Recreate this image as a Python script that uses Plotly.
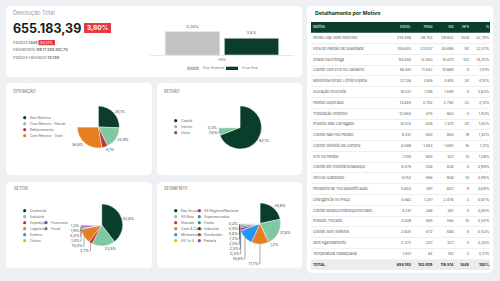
import plotly.graph_objects as go

W, H = 500, 281
FONT = "Inter"
DARK = "#0b3d2c"


def px(x):
    return x / W


def py(y):
    return 1 - y / H


# ---------------- data ----------------
kpi_title = "Devolução Total"
kpi_value = "655.183,39"
kpi_change = "3,80%"
pedidos = "1448"
pedidos_change = "54,21%"
faturamento = "R$ 17.258.102,75"
pedidos_faturados = "10.188"

bar_category = "Ano"
bar_series = ["Ano Anterior", "Esse Ano"]
bar_values = [5.28, 3.8]

op_labels = ["Sem Retorno", "Com Retorno - Parcial", "Refaturamento", "Com Retorno - Total"]
op_values = [34.1, 22.9, 6.1, 36.9]

reg_labels = ["Capital", "Interior", "Outro"]
reg_values = [92.1, 7.6, 0.3]

setor_labels = ["Comercial", "Indústria", "Expedição", "Logística", "Externo", "Outros", "Financeiro", "Fiscal"]
setor_values = [52.8, 23.9, 3.7, 15.0, 1.0, 0.4, 1.9, 1.3]

seg_labels = ["Key Account", "AS Rota", "Atacado", "Cash & Carry", "Minimercado", "AS 1 a 4",
              "AS Regional/Nacional", "Supermercados", "Foods", "Industrial", "Distribuidor", "Padaria"]
seg_values = [28.9, 27.8, 1.2, 17.7, 16.8, 0.3, 2.5, 2.0, 1.2, 0.8, 0.5, 0.3]

table_cols = ["Motivo", "Devol.", "Peso", "Vol", "NFs", "%"]
motivos = ["Perda Loja (Sem Retorno)", "Fora do Padrão de Qualidade", "Atraso na Entrega",
           "Cliente com Erro no Cadastro", "Motorista Exced. Limite Espera", "Alocação Incorreta",
           "Pedido Duplicado", "Tributação (Interno)", "Produto Não Carregado", "Cliente Não Fez Pedido",
           "Cliente Desistiu da Compra", "Erro no Pedido", "Cliente em Inventário/Balanço",
           "Veículo Quebrado", "Pendente de Troca/Bonificação", "Divergência no Preço",
           "Cliente Mudou Endereço/Fechado", "Produto Trocado", "Cliente Sem Sistema",
           "Sem Agendamento", "Temperatura Inadequada"]
devol = [214498, 146803, 93050, 48561, 27136, 18521, 13865, 12664, 10514, 9331, 8588, 7105,
         6476, 6152, 5853, 5683, 4241, 3508, 2835, 2272, 1401]
peso = [39753, 23057, 12463, 11542, 3816, 1109, 2752, 675, 609, 650, 1563, 605,
        436, 666, 597, 1251, 288, 565, 472, 227, 82]
vol = [39932, 30898, 15673, 10889, 4810, 1549, 2780, 663, 1372, 663, 1655, 631,
       628, 938, 820, 2478, 501, 556, 488, 327, 150]
nfs = [1028, 92, 102, 4, 24, 5, 22, 5, 24, 19, 16, 13, 5, 14, 9, 3, 4, 10, 5, 5, 2]
pct = [32.74, 22.41, 14.20, 7.41, 4.14, 2.83, 2.12, 1.93, 1.60, 1.42, 1.31, 1.08,
       0.99, 0.94, 0.89, 0.87, 0.65, 0.54, 0.43, 0.35, 0.21]
total_row = ["TOTAL", "655.183", "103.829", "119.514", "1448", "100%"]

# ---------------- styles ----------------
bar_colors = ["#c2c2c2", DARK]
op_colors = [DARK, "#7fc8a0", "#b83a3a", "#e67e22"]
reg_colors = [DARK, "#7fc8a0", "#b83a3a"]
setor_colors = [DARK, "#7fc8a0", "#b83a3a", "#e67e22", "#2196f3", "#f5b800", "#9c27b0", "#5f7d8c"]
seg_colors = [DARK, "#7fc8a0", "#b83a3a", "#e67e22", "#2196f3", "#f5b800",
              "#9c27b0", "#5f7d8c", "#16a085", "#1f2d3d", "#d35400", "#8e44ad"]


def fmt_int(n):
    return f"{n:,}".replace(",", ".")


def fmt_pct(v, d=1):
    return f"{v:.{d}f}%".replace(".", ",")


fig = go.Figure()
shapes = []
annotations = []


def rrect(x0, y0, x1, y1, r=5, fill="white"):
    X0, X1 = px(x0), px(x1)
    Yt, Yb = py(y0), py(y1)
    rx, ry = r / W, r / H
    path = (f"M {X0+rx},{Yt} L {X1-rx},{Yt} Q {X1},{Yt} {X1},{Yt-ry} "
            f"L {X1},{Yb+ry} Q {X1},{Yb} {X1-rx},{Yb} L {X0+rx},{Yb} Q {X0},{Yb} {X0},{Yb+ry} "
            f"L {X0},{Yt-ry} Q {X0},{Yt} {X0+rx},{Yt} Z")
    return dict(type="path", xref="paper", yref="paper", path=path, fillcolor=fill,
                line=dict(width=0), layer="below")


def text(x, y, s, size=4, color="#555", anchor="left", bold=False, family=FONT):
    annotations.append(dict(x=px(x), y=py(y), xref="paper", yref="paper", text=(f"<b>{s}</b>" if bold else s),
                            showarrow=False, xanchor=anchor, yanchor="middle",
                            font=dict(size=size, color=color, family=family)))


# cards
for c in [(6, 6, 302, 77), (6, 83, 152, 175), (157, 83, 302, 175),
          (6, 182, 152, 268), (157, 182, 302, 268), (307, 6, 493, 273)]:
    shapes.append(rrect(*c))

# KPI block
text(11, 13, kpi_title, size=5.5, color="#9a9a9a")
text(11, 28.5, kpi_value, size=12.5, color="#1a1a1a", bold=True)
shapes.append(dict(type="rect", xref="paper", yref="paper", x0=px(84), x1=px(111), y0=py(33), y1=py(23),
                   fillcolor="#e63946", line=dict(width=0)))
text(97.5, 28.2, kpi_change, size=6.5, color="white", anchor="center", bold=True)
text(11, 42.5, f"Pedidos <b>{pedidos}</b>", size=3.8, color="#777")
shapes.append(dict(type="rect", xref="paper", yref="paper", x0=px(38.5), x1=px(55), y0=py(45.2), y1=py(40),
                   fillcolor="#e63946", line=dict(width=0)))
text(46.8, 42.6, pedidos_change, size=3.6, color="white", anchor="center")
text(11, 49.8, f"Faturamento <b>{faturamento}</b>", size=3.8, color="#777")
text(11, 57, f"Pedidos Faturados <b>{pedidos_faturados}</b>", size=3.8, color="#777")

# bar chart
for name, val, col in zip(bar_series, bar_values, bar_colors):
    fig.add_trace(go.Bar(x=[bar_category], y=[val], name=name,
                         text=[f"{val:g}%".replace(".", ",")], textposition="outside",
                         textfont=dict(size=4, color="#555", family=FONT),
                         marker=dict(color=col, line=dict(color="#e0e0e0", width=0.6)),
                         cliponaxis=False, showlegend=False, hoverinfo="skip",
                         xaxis="x", yaxis="y"))
# bar legend
leg_x = [187, 226]
for name, col, x in zip(bar_series, bar_colors, leg_x):
    shapes.append(dict(type="rect", xref="paper", yref="paper", x0=px(x), x1=px(x + 12),
                       y0=py(70), y1=py(66.7), fillcolor=col, line=dict(width=0)))
    text(x + 14, 68.3, name, size=3.6, color="#777")

# section titles
text(11, 90, "OPERAÇÃO", size=4.2, color="#666")
text(161.5, 90, "REGIÃO", size=4.2, color="#666")
text(11.5, 188.3, "SETOR", size=4.2, color="#666")
text(161.5, 188.3, "SEGMENTO", size=4.2, color="#666")


def add_pie(values, colors, cx, cy, r):
    filler = sum(values) / 3
    n = len(values)
    fig.add_trace(go.Pie(values=values + [filler], sort=False, direction="clockwise", rotation=0,
                         marker=dict(colors=colors + ["rgba(0,0,0,0)"], line=dict(color="white", width=0.4)),
                         text=[fmt_pct(v) for v in values] + [""], textinfo="text",
                         textposition=["outside"] * n + ["none"],
                         textfont=dict(size=3.7, color="#444", family=FONT),
                         domain=dict(x=[px(cx - r), px(cx + r)], y=[py(cy + r), py(cy - r)]),
                         showlegend=False, hoverinfo="skip"))


def add_legend(labels, colors, slots, x0, y0, col_dx, dy=6):
    for lab, col, (c, rw) in zip(labels, colors, slots):
        x = x0 + c * col_dx
        y = y0 + rw * dy
        shapes.append(dict(type="circle", xref="paper", yref="paper", x0=px(x - 1.6), x1=px(x + 1.6),
                           y0=py(y + 1.6), y1=py(y - 1.6), fillcolor=col, line=dict(width=0)))
        text(x + 3, y, lab, size=3.4, color="#666")


add_pie(op_values, op_colors, 98.3, 127, 21)
add_legend(op_labels, op_colors, [(0, i) for i in range(4)], 24.7, 117.7, 0)

add_pie(reg_values, reg_colors, 240, 127.5, 21.5)
add_legend(reg_labels, reg_colors, [(0, i) for i in range(3)], 175.7, 120.7, 0)

add_pie(setor_values, setor_colors, 101.7, 225, 21)
add_legend(setor_labels, setor_colors, [(0, i) for i in range(6)] + [(1, 2), (1, 3)], 24.7, 210.7, 21.3)

add_pie(seg_values, seg_colors, 260, 223.5, 20.6)
add_legend(seg_labels, seg_colors, [(0, i) for i in range(6)] + [(1, i) for i in range(6)], 175.7, 210.7, 23.6)

# table
text(312.7, 14, "Detalhamento por Motivo", size=5.3, color=DARK, bold=True)
n = len(motivos)
rows_y = list(range(n + 2))
shapes.append(dict(type="rect", xref="paper", yref="y2", x0=px(311), x1=px(490), y0=-0.5, y1=0.5,
                   fillcolor=DARK, line=dict(width=0), layer="below"))
shapes.append(dict(type="rect", xref="paper", yref="y2", x0=px(311), x1=px(490), y0=n + 0.5, y1=n + 1.5,
                   fillcolor="#ececec", line=dict(width=0), layer="below"))

columns = [motivos, [fmt_int(v) for v in devol], [fmt_int(v) for v in peso],
           [fmt_int(v) for v in vol], [str(v) for v in nfs], [fmt_pct(v, 2) for v in pct]]
col_pos = [2, 100, 121.5, 142.5, 158, 178.3]
col_align = ["middle right"] + ["middle left"] * 5
for j, name in enumerate(table_cols):
    texts = [name] + columns[j] + [f"<b>{total_row[j]}</b>"]
    colors = ["white"] + ["#5a5a5a"] * n + [DARK]
    fig.add_trace(go.Scatter(x=[col_pos[j]] * len(texts), y=rows_y, mode="text", text=texts,
                             textposition=col_align[j],
                             textfont=dict(size=3.7, color=colors, family=FONT),
                             xaxis="x2", yaxis="y2", showlegend=False, hoverinfo="skip", cliponaxis=False))

fig.update_layout(
    width=W, height=H, margin=dict(l=0, r=0, t=0, b=0),
    paper_bgcolor="#eef0f4", plot_bgcolor="rgba(0,0,0,0)",
    font=dict(family=FONT, size=4, color="#555"),
    separators=",.",
    barmode="group", bargap=0.18, bargroupgap=0.08,
    xaxis=dict(domain=[px(150), px(294)], showline=True, linecolor="#e6e6e6", linewidth=0.6,
               ticks="", tickfont=dict(size=4, color="#777"), fixedrange=True, anchor="y", showgrid=False),
    yaxis=dict(domain=[py(55), py(18)], range=[0, 8.4], visible=False, fixedrange=True),
    xaxis2=dict(domain=[px(311), px(490)], range=[0, 179], visible=False, anchor="y2", fixedrange=True),
    yaxis2=dict(domain=[py(270), py(22)], range=[n + 1.5, -0.5], showgrid=True,
                tickvals=[i + 0.5 for i in range(1, n)], showticklabels=False, ticks="",
                gridcolor="#efefef", gridwidth=0.5, zeroline=False, showline=False,
                anchor="x2", fixedrange=True),
    shapes=shapes, annotations=annotations,
)

fig.write_html("out.html")
